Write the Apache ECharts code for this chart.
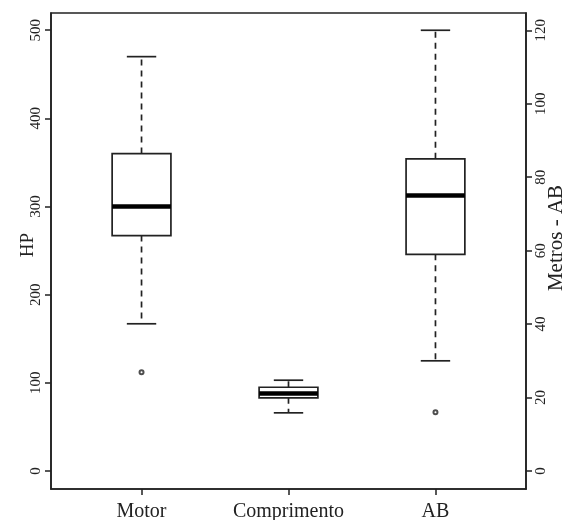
<!DOCTYPE html>
<html>
<head>
<meta charset="utf-8">
<script src="https://cdn.jsdelivr.net/npm/echarts@6/dist/echarts.min.js"></script>
<style>
html,body{margin:0;padding:0;background:#fff;}
#chart{width:567px;height:520px;}
</style>
</head>
<body>
<div id="chart"></div>
<script>
// ---- data ----
const categories = ['Motor', 'Comprimento', 'AB'];
// [lower whisker, Q1, median, Q3, upper whisker]
const motorStats = [167, 267, 300, 360, 470];
const comprimentoStats = [66, 83, 88, 95, 103];
const abStats = [30, 59, 75, 85, 120];   // metros (right axis)
const motorOutliers = [112];
const abOutliers = [16];                 // metros (right axis)
const hpTicks = [0, 100, 200, 300, 400, 500];
const metrosTicks = [0, 20, 40, 60, 80, 100, 120];

const FONT = "'Liberation Serif', 'Times New Roman', serif";
const INK = '#222';

function renderBox(params, api) {
  const x = api.value(0);
  const lo = api.value(1), q1 = api.value(2), med = api.value(3), q3 = api.value(4), hi = api.value(5);
  const boxW = api.size([0.4, 0])[0];
  const capW = boxW / 2;
  const c = (v) => api.coord([x, v]);
  const pLo = c(lo), pQ1 = c(q1), pMed = c(med), pQ3 = c(q3), pHi = c(hi);
  const cx = pMed[0];
  const stroke = { stroke: INK, lineWidth: 1.7, fill: null };
  const dashed = { stroke: INK, lineWidth: 1.7, lineDash: [6, 5] };
  return {
    type: 'group',
    children: [
      { type: 'line', shape: { x1: cx, y1: pQ3[1], x2: cx, y2: pHi[1] }, style: dashed },
      { type: 'line', shape: { x1: cx, y1: pQ1[1], x2: cx, y2: pLo[1] }, style: dashed },
      { type: 'line', shape: { x1: cx - capW / 2, y1: pHi[1], x2: cx + capW / 2, y2: pHi[1] }, style: stroke },
      { type: 'line', shape: { x1: cx - capW / 2, y1: pLo[1], x2: cx + capW / 2, y2: pLo[1] }, style: stroke },
      { type: 'rect', shape: { x: cx - boxW / 2, y: pQ3[1], width: boxW, height: pQ1[1] - pQ3[1] }, style: { stroke: INK, lineWidth: 1.7, fill: '#fff' } },
      { type: 'line', shape: { x1: cx - boxW / 2, y1: pMed[1], x2: cx + boxW / 2, y2: pMed[1] }, style: { stroke: '#000', lineWidth: 4.5 } }
    ]
  };
}

const chart = echarts.init(document.getElementById('chart'), null, { renderer: 'canvas' });
chart.setOption({
  animation: false,
  backgroundColor: '#fff',
  grid: { left: 51, right: 41, top: 13, bottom: 31, containLabel: false, outerBoundsMode: 'none', show: true, borderColor: INK, borderWidth: 1.6, backgroundColor: 'transparent' },
  xAxis: {
    type: 'value', min: 0.384, max: 3.616,
    axisLine: { show: true, onZero: false, lineStyle: { color: INK, width: 1.6 } },
    axisTick: { show: true, customValues: [1, 2, 3], length: 6, inside: false, lineStyle: { color: INK, width: 1.5 } },
    axisLabel: { customValues: [1, 2, 3], formatter: (v) => categories[Math.round(v) - 1], fontFamily: FONT, fontSize: 20, color: INK, margin: 13 },
    splitLine: { show: false }
  },
  yAxis: [
    {
      type: 'value', min: -20.4, max: 519.5, position: 'left',
      name: 'HP', nameLocation: 'middle', nameRotate: 90, nameGap: 13, nameMoveOverlap: false,
      nameTextStyle: { fontFamily: FONT, fontSize: 19, color: INK, padding: [0, 0, 0, 12] },
      axisLine: { show: true, onZero: false, lineStyle: { color: INK, width: 1.6 } },
      axisTick: { show: true, customValues: hpTicks, length: 6, lineStyle: { color: INK, width: 1.5 } },
      axisLabel: { customValues: hpTicks, rotate: 90, fontFamily: FONT, fontSize: 15, color: INK, margin: 7 },
      splitLine: { show: false }
    },
    {
      type: 'value', min: -4.9, max: 124.7, position: 'right',
      name: 'Metros - AB', nameLocation: 'middle', nameRotate: 90, nameGap: 20, nameMoveOverlap: false,
      nameTextStyle: { fontFamily: FONT, fontSize: 21, color: INK, padding: [0, 0, 0, 26] },
      axisLine: { show: true, onZero: false, lineStyle: { color: INK, width: 1.6 } },
      axisTick: { show: true, customValues: metrosTicks, length: 6, lineStyle: { color: INK, width: 1.5 } },
      axisLabel: { customValues: metrosTicks, rotate: 90, fontFamily: FONT, fontSize: 15, color: INK, margin: 8 },
      splitLine: { show: false }
    }
  ],
  series: [
    {
      type: 'custom', name: 'HP', xAxisIndex: 0, yAxisIndex: 0,
      renderItem: renderBox,
      encode: { x: 0, y: [1, 2, 3, 4, 5] },
      data: [[1].concat(motorStats), [2].concat(comprimentoStats)]
    },
    {
      type: 'custom', name: 'AB', xAxisIndex: 0, yAxisIndex: 1,
      renderItem: renderBox,
      encode: { x: 0, y: [1, 2, 3, 4, 5] },
      data: [[3].concat(abStats)]
    },
    {
      type: 'scatter', xAxisIndex: 0, yAxisIndex: 0, symbol: 'emptyCircle', symbolSize: 4, z: 5,
      itemStyle: { color: INK, borderColor: INK, borderWidth: 1.5 },
      data: motorOutliers.map(v => [1, v])
    },
    {
      type: 'scatter', xAxisIndex: 0, yAxisIndex: 1, symbol: 'emptyCircle', symbolSize: 4, z: 5,
      itemStyle: { color: INK, borderColor: INK, borderWidth: 1.5 },
      data: abOutliers.map(v => [3, v])
    }
  ]
});
</script>
</body>
</html>
